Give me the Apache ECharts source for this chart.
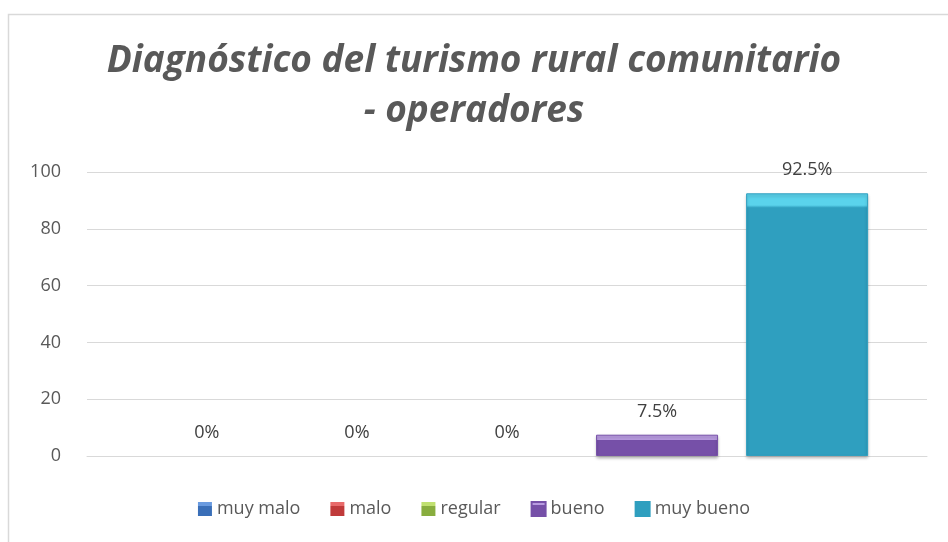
<!DOCTYPE html>
<html>
<head>
<meta charset="utf-8">
<script src="https://cdn.jsdelivr.net/npm/echarts@6/dist/echarts.min.js"></script>
<style>
html, body { margin: 0; padding: 0; background: #fff; }
#main { width: 948px; height: 542px; }
</style>
</head>
<body>
<div id="main"></div>
<script>
var categories = ['muy malo', 'malo', 'regular', 'bueno', 'muy bueno'];
var values = [0, 0, 0, 7.5, 92.5];
var yTicks = [0, 20, 40, 60, 80, 100];

// colores tipo bisel (claro arriba, oscuro abajo)
var colors = [
    ['#6a9be0', '#3a6fb8'],
    ['#e86a6a', '#c03a3a'],
    ['#c0e070', '#88ad3e'],
    ['#b89be0', '#7650a8'],
    ['#5ad3ec', '#2f9fbf']
];

var myChart = echarts.init(document.getElementById('main'));

var series = categories.map(function (name, i) {
    var top = values[i] > 50 ? 0.045 : 0.25;
    return {
        name: name,
        type: 'bar',
        data: [values[i]],
        barWidth: 122,
        barGap: '23%',
        barCategoryGap: '14%',
        itemStyle: {
            color: new echarts.graphic.LinearGradient(0, 0, 0, 1, [
                { offset: 0, color: colors[i][0] },
                { offset: top, color: colors[i][0] },
                { offset: top + 0.01, color: colors[i][1] },
                { offset: 1, color: colors[i][1] }
            ]),
            borderColor: values[i] > 0 ? colors[i][1] : 'transparent',
            borderWidth: values[i] > 0 ? 1 : 0,
            shadowColor: values[i] > 0 ? 'rgba(0,0,0,0.25)' : 'transparent',
            shadowBlur: values[i] > 0 ? 3 : 0,
            shadowOffsetY: 2
        },
        label: {
            show: true,
            position: 'top',
            distance: 14,
            formatter: function (p) { return p.value + '%'; },
            color: '#404040',
            fontSize: 18,
            fontFamily: 'Open Sans'
        }
    };
});

option = {
    backgroundColor: '#fff',
    animation: false,
    graphic: [{
        type: 'rect',
        shape: { x: 8.5, y: 14.5, width: 950, height: 600 },
        style: { fill: 'none', stroke: '#d9d9d9', lineWidth: 1.5 },
        silent: true
    }],
    title: {
        text: 'Diagnóstico del turismo rural comunitario\n- operadores',
        left: 'center',
        top: 31,
        textStyle: {
            color: '#595959',
            fontSize: 37,
            fontStyle: 'italic',
            fontWeight: 'bold',
            fontFamily: 'Open Sans',
            lineHeight: 50
        }
    },
    legend: {
        bottom: 19,
        left: 'center',
        itemWidth: 14,
        itemHeight: 14,
        itemGap: 30,
        icon: 'rect',
        textStyle: { color: '#595959', fontSize: 18, fontFamily: 'Open Sans' },
        data: categories
    },
    grid: {
        left: 87,
        right: 21,
        top: 172,
        bottom: 86,
        containLabel: false
    },
    xAxis: {
        type: 'category',
        data: [''],
        axisLine: { show: true, lineStyle: { color: '#d9d9d9' } },
        axisTick: { show: false },
        axisLabel: { show: false }
    },
    yAxis: {
        type: 'value',
        min: yTicks[0],
        max: yTicks[yTicks.length - 1],
        interval: 20,
        axisLine: { show: false },
        axisTick: { show: false },
        axisLabel: { color: '#595959', fontSize: 18, fontFamily: 'Open Sans', margin: 26 },
        splitLine: { lineStyle: { color: '#d9d9d9', width: 1 } }
    },
    series: series
};
myChart.setOption(option);
</script>
</body>
</html>
